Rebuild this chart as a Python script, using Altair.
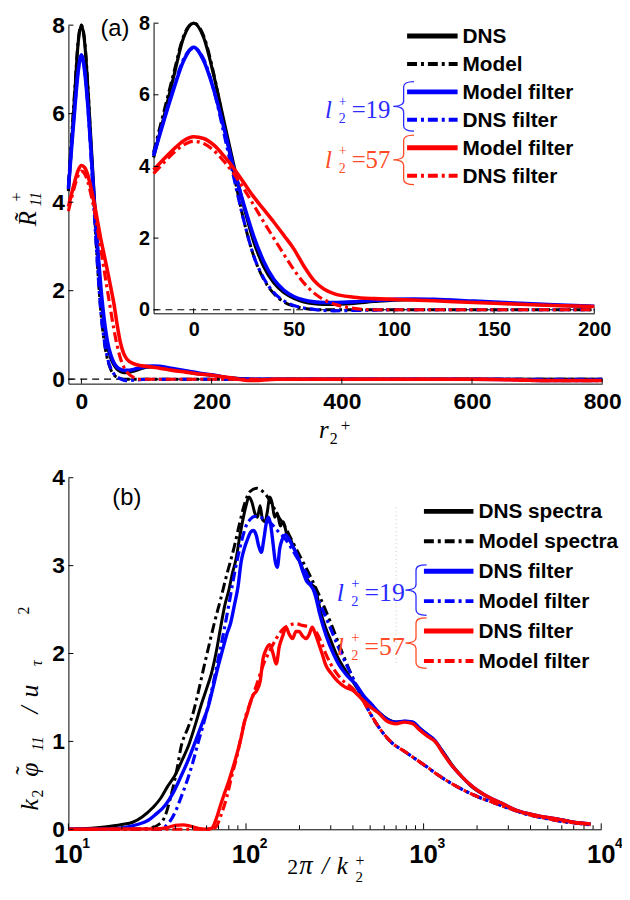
import altair as alt
import pandas as pd

# ---------------- panel (a): correlation R11+ vs r2+ ----------------
A_X = [-20, -15, -10, -5, 0, 5, 10, 15, 20, 25, 30, 35, 40, 45, 50, 55, 60, 65, 70, 80,
       90, 100, 110, 120, 140, 160, 180, 200, 230, 260, 300, 400, 500, 600, 680, 700, 750, 800]
A_DNS = [4.25, 5.35, 6.5, 7.6, 8.0, 7.6, 6.55, 5.3, 4.05, 2.9, 1.9, 1.2, 0.75, 0.48, 0.32, 0.22, 0.17, 0.15, 0.15, 0.18,
         0.23, 0.27, 0.28, 0.27, 0.22, 0.17, 0.12, 0.09, 0.03, 0.0, 0, 0, 0, 0, 0, 0, 0, 0]
A_MODEL = [4.4, 5.5, 6.6, 7.65, 8.0, 7.65, 6.6, 5.2, 3.8, 2.5, 1.5, 0.85, 0.45, 0.22, 0.1, 0.04, 0.01, 0, 0, 0,
           0, 0, 0, 0, 0, 0, 0, 0, 0, 0, 0, 0, 0, 0, 0, 0, 0, 0]
A_MODEL_F19 = [4.3, 5.25, 6.15, 6.95, 7.33, 6.95, 6.15, 5.1, 3.95, 2.95, 2.05, 1.35, 0.85, 0.55, 0.37, 0.27, 0.22, 0.2, 0.2, 0.22,
               0.26, 0.29, 0.3, 0.29, 0.24, 0.19, 0.14, 0.1, 0.02, 0.0, 0, 0, 0, 0, -0.01, -0.03, -0.03, -0.02]
A_DNS_F19 = [4.35, 5.3, 6.2, 7.0, 7.3, 7.0, 6.15, 4.95, 3.7, 2.5, 1.5, 0.88, 0.48, 0.25, 0.12, 0.05, 0.01, -0.02, -0.03, -0.02,
             -0.01, 0, 0, 0, 0, 0, 0, 0, 0, 0, 0, 0, 0, 0, 0, 0, 0, 0]
A_MODEL_F57 = [3.9, 4.2, 4.48, 4.72, 4.83, 4.78, 4.6, 4.3, 3.95, 3.55, 3.15, 2.8, 2.45, 2.08, 1.7, 1.22, 0.82, 0.58, 0.45, 0.35,
               0.31, 0.29, 0.27, 0.25, 0.2, 0.16, 0.12, 0.09, 0.03, -0.03, 0, 0, 0, 0, -0.02, -0.03, -0.03, -0.03]
A_DNS_F57 = [3.8, 4.1, 4.38, 4.6, 4.7, 4.64, 4.45, 4.15, 3.8, 3.38, 2.92, 2.45, 2.0, 1.55, 1.12, 0.75, 0.47, 0.28, 0.16, 0.04,
             0, 0, 0, 0, 0, 0, 0, 0, 0, 0, 0, 0, 0, 0, -0.02, -0.03, -0.03, -0.03]
A_XTICKS = [0, 200, 400, 600, 800]
A_YTICKS = [0, 2, 4, 6, 8]
INSET_XMAX = 200
INSET_XTICKS = [0, 50, 100, 150, 200]
A_LEGEND = ["DNS", "Model", "Model filter", "DNS filter", "Model filter", "DNS filter"]
L_VALUES = ["19", "57"]

# ---------------- panel (b): premultiplied spectra ----------------
B_X_DNS = [10, 12, 15, 18, 20, 23, 26, 30, 33, 36, 40, 44, 48, 52, 56, 60, 64, 68, 72, 76,
           80, 84, 88, 92, 96, 100, 104, 108, 112, 116, 120, 124, 128, 132, 136, 140, 145, 150, 156, 162,
           170, 178, 186, 195, 205, 215, 225, 235, 245, 255, 265, 280, 300, 330, 360, 400, 450, 500, 560, 620,
           700, 780, 860, 950, 1050, 1160, 1300, 1450, 1640, 1900, 2300, 2800, 3400, 4000, 5000, 6000, 7000, 8700]
B_DNS = [0.0, 0.005, 0.02, 0.04, 0.055, 0.08, 0.14, 0.25, 0.35, 0.48, 0.62, 0.8, 0.98, 1.2, 1.42, 1.6, 1.78, 2.02, 2.3, 2.55,
         2.72, 2.92, 3.08, 3.32, 3.52, 3.68, 3.78, 3.72, 3.6, 3.55, 3.68, 3.52, 3.5, 3.62, 3.78, 3.72, 3.55, 3.6, 3.45, 3.5,
         3.35, 3.3, 3.2, 3.1, 3.0, 2.9, 2.82, 2.78, 2.75, 2.6, 2.45, 2.3, 2.15, 1.95, 1.82, 1.68, 1.52, 1.42, 1.33, 1.26,
         1.22, 1.23, 1.22, 1.15, 1.08, 1.0, 0.87, 0.73, 0.6, 0.47, 0.37, 0.28, 0.21, 0.17, 0.13, 0.11, 0.08, 0.06]
B_X_MODEL = [10, 20, 28, 32, 35, 38, 41, 43, 47, 50, 53, 58, 62, 66, 72, 78, 81, 86, 92, 98,
             105, 115, 125, 140, 150, 165, 180, 200, 230, 260, 300, 350, 400, 450, 500, 560, 650, 790, 900, 1060,
             1200, 1440, 1700, 2020, 2500, 3000, 3840, 5000, 6000, 7300, 8700]
B_MODEL = [0, 0, 0.01, 0.05, 0.15, 0.4, 0.7, 0.93, 1.15, 1.3, 1.5, 1.85, 2.1, 2.33, 2.62, 2.9, 3.02, 3.22, 3.48, 3.7,
           3.84, 3.88, 3.84, 3.7, 3.58, 3.45, 3.3, 3.12, 2.88, 2.65, 2.35, 2.0, 1.72, 1.5, 1.32, 1.16, 1.0, 0.88, 0.8, 0.7,
           0.62, 0.52, 0.44, 0.37, 0.3, 0.24, 0.17, 0.12, 0.09, 0.07, 0.05]
B_X_F19 = [10, 18, 22, 25, 28, 31, 35, 39, 43, 48, 53, 57, 61, 65, 69, 74, 78, 82, 86, 90,
           94, 98, 102, 106, 110, 114, 118, 122, 126, 130, 134, 138, 142, 146, 150, 155, 160, 167, 175, 183,
           191, 200, 210, 220, 230, 240, 250, 260, 283, 310, 334, 360, 382, 415, 460, 510, 560, 613, 700, 780,
           870, 950, 1050, 1160, 1300, 1450, 1640, 1900, 2300, 2800, 3300, 3840, 4500, 5200, 5900, 7000, 8700]
B_DNS_F19 = [0, 0.005, 0.03, 0.06, 0.1, 0.17, 0.27, 0.42, 0.6, 0.82, 1.05, 1.22, 1.38, 1.6, 1.82, 2.05, 2.22, 2.35, 2.55, 2.75,
             3.05, 3.2, 3.3, 3.38, 3.4, 3.35, 3.22, 3.15, 3.3, 3.48, 3.55, 3.45, 3.25, 3.05, 2.98, 3.2, 3.3, 3.35, 3.3, 3.22,
             3.15, 3.05, 2.92, 2.82, 2.78, 2.72, 2.6, 2.45, 2.2, 2.0, 1.87, 1.78, 1.72, 1.65, 1.52, 1.42, 1.33, 1.26, 1.22, 1.23,
             1.22, 1.15, 1.08, 1.01, 0.86, 0.72, 0.6, 0.48, 0.37, 0.29, 0.22, 0.18, 0.15, 0.13, 0.11, 0.08, 0.06]
B_X_M19 = [10, 33, 35, 37, 40, 43, 46, 50, 54, 58, 62, 66, 70, 75, 80, 85, 90, 95, 100, 106,
           112, 120, 135, 150, 167, 190, 218, 250, 290, 340, 400, 450, 500, 560, 650, 790, 900, 1060, 1200, 1440,
           1700, 2020, 2500, 3000, 3840, 5000, 6000, 7300, 8700]
B_MODEL_F19 = [0, 0, 0.03, 0.08, 0.2, 0.36, 0.52, 0.75, 1.0, 1.22, 1.45, 1.7, 1.95, 2.25, 2.55, 2.85, 3.1, 3.3, 3.45, 3.53,
               3.56, 3.55, 3.5, 3.4, 3.3, 3.12, 2.92, 2.65, 2.35, 2.02, 1.72, 1.5, 1.32, 1.16, 1.0, 0.88, 0.8, 0.7, 0.62, 0.52,
               0.44, 0.37, 0.3, 0.24, 0.17, 0.12, 0.09, 0.07, 0.05]
B_X_F57 = [10, 30, 36, 40, 44, 48, 52, 56, 60, 64, 68, 72, 76, 80, 85, 89, 94, 98, 102, 106,
           110, 115, 120, 125, 130, 136, 142, 148, 154, 161, 168, 175, 183, 191, 199, 208, 218, 227, 236, 246,
           258, 270, 281, 300, 330, 360, 400, 450, 510, 560, 613, 700, 780, 870, 950, 1050, 1160, 1300, 1450, 1640,
           1900, 2300, 2800, 3300, 3840, 4500, 5200, 5900, 7000, 8700]
B_DNS_F57 = [0, 0.005, 0.02, 0.045, 0.05, 0.04, 0.02, 0.005, 0, 0.01, 0.12, 0.28, 0.42, 0.55, 0.72, 0.86, 1.05, 1.22, 1.33, 1.45,
             1.53, 1.58, 1.68, 1.95, 2.05, 2.1, 2.0, 1.88, 2.08, 2.2, 2.3, 2.22, 2.17, 2.25, 2.25, 2.2, 2.17, 2.22, 2.3, 2.22,
             2.1, 1.98, 1.87, 1.78, 1.68, 1.62, 1.58, 1.48, 1.38, 1.32, 1.24, 1.2, 1.22, 1.2, 1.13, 1.06, 1.0, 0.85, 0.72, 0.6,
             0.48, 0.37, 0.29, 0.22, 0.18, 0.15, 0.13, 0.11, 0.08, 0.06]
B_X_M57 = [10, 64, 68, 72, 78, 83, 88.6, 95, 100, 105, 115, 125, 136, 148, 160, 175, 190, 208, 228, 247,
           265, 281, 300, 340, 400, 450, 500, 560, 650, 790, 900, 1060, 1200, 1440, 1700, 2020, 2500, 3000, 3840, 5000,
           6000, 7300, 8700]
B_MODEL_F57 = [0, 0, 0.03, 0.15, 0.37, 0.6, 0.82, 1.1, 1.3, 1.42, 1.65, 1.87, 2.03, 2.17, 2.27, 2.32, 2.34, 2.32, 2.3, 2.25,
               2.13, 2.0, 1.88, 1.72, 1.6, 1.48, 1.32, 1.16, 1.0, 0.88, 0.8, 0.7, 0.62, 0.52, 0.44, 0.37, 0.3, 0.24, 0.17, 0.12,
               0.09, 0.07, 0.05]
B_YTICKS = [0, 1, 2, 3, 4]
B_DECADES = [10, 100, 1000, 10000]
B_EXPONENTS = ["1", "2", "3", "4"]
B_MINOR = [20, 30, 40, 50, 60, 70, 80, 90, 200, 300, 400, 500, 600, 700, 800, 900,
           2000, 3000, 4000, 5000, 6000, 7000, 8000, 9000]
B_LEGEND = ["DNS spectra", "Model spectra", "DNS filter", "Model filter", "DNS filter", "Model filter"]

# ---------------- layout / style ----------------
W, H = 620, 883
M = 8


def P(v):
    return v - M


SANS = "Liberation Sans"
SERIF = "Liberation Serif"
BLACK, BLUE, RED = "#000000", "#0000ff", "#ff0000"
BLUE_T, RED_T = "#2b2bff", "#ff4a26"
DD = [10, 4, 3, 4]

A_XR, A_YR = [P(69), P(608)], [P(383), P(21)]
I_XR, I_YR = [P(155), P(600)], [P(312), P(19)]
B_XR, B_YR = [P(69), P(607)], [P(833), P(478)]


def ax(orient, values, offset, fs, pad, labels=True):
    return alt.Axis(orient=orient, offset=offset, values=values, labels=labels, ticks=False, tickSize=0,
                    grid=False, domainColor="black", domainWidth=1, labelFont=SANS, labelFontSize=fs,
                    labelFontWeight="bold", labelColor="black", labelPadding=pad, labelFlush=False,
                    labelOverlap=False, title=None)


def enc(xdom, xr, xvals, ydom, yr, yvals, fsx, fsy, padx, pady, xtype="linear", xlabels=True):
    xe = alt.X("x:Q", scale=alt.Scale(type=xtype, domain=xdom, range=xr, nice=False),
               axis=ax("bottom", xvals, yr[0] - H, fsx, padx, xlabels))
    ye = alt.Y("y:Q", scale=alt.Scale(domain=ydom, range=yr, nice=False, zero=False),
               axis=ax("left", yvals, -xr[0], fsy, pady))
    return xe, ye


def line(xs, ys, color, dash, width, xe, ye):
    kw = dict(color=color, strokeWidth=width, interpolate="monotone")
    if dash:
        kw["strokeDash"] = dash
    return alt.Chart(pd.DataFrame({"x": xs, "y": ys})).mark_line(**kw).encode(x=xe, y=ye)


def yticks(vals, ye, axpx, length):
    return alt.Chart(pd.DataFrame({"y": vals})).mark_rule(color="black", strokeWidth=1).encode(
        y=ye, x=alt.value(axpx), x2=alt.value(axpx + length))


def xticks(vals, xe, axpx, length):
    return alt.Chart(pd.DataFrame({"x": vals})).mark_rule(color="black", strokeWidth=1).encode(
        x=xe, y=alt.value(axpx), y2=alt.value(axpx - length))


def zero_line(ye, xr):
    return alt.Chart(pd.DataFrame({"y": [0]})).mark_rule(color="black", strokeWidth=1.2, strokeDash=[7, 5]).encode(
        y=ye, x=alt.value(xr[0]), x2=alt.value(xr[1]))


def txt(s, x, y, size, font=SANS, weight="normal", style="normal", color="black",
        align="left", baseline="alphabetic", angle=0):
    kw = dict(font=font, fontSize=size, fontWeight=weight, fontStyle=style, color=color,
              align=align, baseline=baseline)
    if angle:
        kw["angle"] = angle
    return alt.Chart(pd.DataFrame({"t": [s]})).mark_text(**kw).encode(
        x=alt.value(P(x)), y=alt.value(P(y)), text="t:N")


def swatch(x1, x2, y, color, dash, width):
    kw = dict(color=color, strokeWidth=width)
    if dash:
        kw["strokeDash"] = dash
    return alt.Chart(pd.DataFrame({"a": [0]})).mark_rule(**kw).encode(
        x=alt.value(P(x1)), x2=alt.value(P(x2)), y=alt.value(P(y)))


BRACE = ("M0.42,-1 C0.12,-1 0,-0.94 0,-0.78 L0,-0.22 C0,-0.07 -0.18,0 -0.42,0 "
         "C-0.18,0 0,0.07 0,0.22 L0,0.78 C0,0.94 0.12,1 0.42,1")


def brace(x, y, half_h, color):
    return alt.Chart(pd.DataFrame({"a": [0]})).mark_point(
        shape=BRACE, size=(2 * half_h) ** 2, filled=False, color=color, strokeWidth=1.3, opacity=1).encode(
        x=alt.value(P(x)), y=alt.value(P(y)))


def l_label(xl, yb, num, color, size):
    k = size / 25.0
    return [
        txt("l", xl, yb, size, SERIF, style="italic", color=color),
        txt("+", xl + 14 * k, yb - 12.5 * k, 14 * k, SERIF, color=color),
        txt("2", xl + 14 * k, yb + 5 * k, 14 * k, SERIF, color=color),
        txt("=" + num, xl + 27 * k, yb, size, SERIF, color=color),
    ]


# ---------------- panel (a) main ----------------
series_a = [(A_DNS, BLACK, None, 3.2), (A_MODEL, BLACK, DD, 3.0),
            (A_MODEL_F19, BLUE, None, 3.6), (A_DNS_F19, BLUE, DD, 3.2),
            (A_MODEL_F57, RED, None, 3.6), (A_DNS_F57, RED, DD, 3.2)]

xeA, yeA = enc([-20, 800], A_XR, A_XTICKS, [-0.1, 8], A_YR, A_YTICKS, 23, 23, 7, 4)
a_layers = [zero_line(yeA, A_XR)]
a_layers += [line(A_X, ys, c, d, w, xeA, yeA) for ys, c, d, w in series_a]
a_layers += [yticks(A_YTICKS, yeA, A_XR[0], 5), xticks(A_XTICKS, xeA, A_YR[0], 5)]
panel_a = alt.layer(*a_layers)

# ---------------- panel (a) inset ----------------
xeI, yeI = enc([-20, INSET_XMAX], I_XR, INSET_XTICKS, [-0.1, 8], I_YR, A_YTICKS, 20, 20, 6, 4)
keep = [i for i, v in enumerate(A_X) if v <= INSET_XMAX]
i_layers = [zero_line(yeI, I_XR)]
i_layers += [line([A_X[i] for i in keep], [ys[i] for i in keep], c, d, w, xeI, yeI) for ys, c, d, w in series_a]
i_layers += [yticks(A_YTICKS, yeI, I_XR[0], 5), xticks(INSET_XTICKS, xeI, I_YR[0], 5)]
inset = alt.layer(*i_layers)

# ---------------- panel (b) ----------------
series_b = [(B_X_DNS, B_DNS, BLACK, None, 3.0), (B_X_MODEL, B_MODEL, BLACK, DD, 3.0),
            (B_X_F19, B_DNS_F19, BLUE, None, 3.4), (B_X_M19, B_MODEL_F19, BLUE, DD, 3.2),
            (B_X_F57, B_DNS_F57, RED, None, 3.4), (B_X_M57, B_MODEL_F57, RED, DD, 3.2)]
xeB, yeB = enc([10, 10000], B_XR, B_DECADES, [0, 4], B_YR, B_YTICKS, 22, 23, 8, 4,
               xtype="log", xlabels=False)
b_layers = [line(xs, ys, c, d, w, xeB, yeB) for xs, ys, c, d, w in series_b]
b_layers += [yticks(B_YTICKS, yeB, B_XR[0], 5), xticks(B_DECADES, xeB, B_YR[0], 6),
             xticks(B_MINOR, xeB, B_YR[0], 4)]
dec = pd.DataFrame({"x": B_DECADES, "e": B_EXPONENTS})
b_layers.append(alt.Chart(dec).mark_text(font=SANS, fontSize=26, fontWeight="bold", align="center",
                                         baseline="top").encode(x=xeB, y=alt.value(P(846)), text=alt.value("10")))
b_layers.append(alt.Chart(dec).mark_text(font=SANS, fontSize=14, fontWeight="bold", align="left",
                                         baseline="top", dx=14).encode(x=xeB, y=alt.value(P(841)), text="e:N"))
panel_b = alt.layer(*b_layers)

# ---------------- annotations ----------------
ann = []
ann.append(txt("(a)", 116, 25, 24, align="center", baseline="middle"))
ann.append(txt("(b)", 128, 499, 24, align="center", baseline="middle"))

# legend (a)
styles = [(BLACK, None), (BLACK, DD), (BLUE, None), (BLUE, DD), (RED, None), (RED, DD)]
for i, (lab, (c, d)) in enumerate(zip(A_LEGEND, styles)):
    y = 32 + 28.2 * i
    ann.append(swatch(411, 462, y, c, d, 5 if d is None else 4))
    ann.append(txt(lab, 467, y + 1, 21, weight="bold", baseline="middle"))
ann.append(brace(407.5, 103, 25, BLUE_T))
ann.append(brace(407.5, 157, 25, RED_T))
ann += l_label(328, 115, L_VALUES[0], BLUE_T, 25)
ann += l_label(328, 165, L_VALUES[1], RED_T, 25)

# legend (b)
for i, (lab, (c, d)) in enumerate(zip(B_LEGEND, styles)):
    y = 512 + 30.2 * i
    ann.append(swatch(428, 478, y, c, d, 5 if d is None else 4))
    ann.append(txt(lab, 483, y + 1, 21, weight="bold", baseline="middle"))
ann.append(brace(420, 591.5, 25.5, BLUE_T))
ann.append(brace(420, 645, 25.5, RED_T))
ann += l_label(340, 602, L_VALUES[0], BLUE_T, 26)
ann += l_label(340, 657, L_VALUES[1], RED_T, 26)
ann.append(alt.Chart(pd.DataFrame({"a": [0]})).mark_rule(color="#c8c8c8", strokeWidth=1, strokeDash=[1, 3]).encode(
    x=alt.value(P(400)), y=alt.value(P(508)), y2=alt.value(P(668))))

# axis titles (a)
ann.append(txt("R\u0303", 36, 224, 25, SERIF, style="italic", angle=270))
ann.append(txt("+", 22, 199, 16, SERIF, angle=270))
ann.append(txt("11", 41, 204, 16, SERIF, style="italic", angle=270))
ann.append(txt("r", 322, 438, 25, SERIF, style="italic"))
ann.append(txt("2", 333, 444, 16, SERIF))
ann.append(txt("+", 344, 431, 17, SERIF))

# axis titles (b)
ann.append(txt("k", 38, 814, 26, SERIF, style="italic", angle=270))
ann.append(txt("2", 43, 801, 16, SERIF, angle=270))
ann.append(txt("\u03c6", 38, 780, 26, SERIF, style="italic", angle=270))
ann.append(txt("\u02dc", 33, 778, 26, SERIF, angle=270))
ann.append(txt("11", 43, 754, 16, SERIF, style="italic", angle=270))
ann.append(txt("/", 38, 716, 26, SERIF, style="italic", angle=270))
ann.append(txt("u", 38, 700, 26, SERIF, style="italic", angle=270))
ann.append(txt("\u03c4", 42, 668, 16, SERIF, style="italic", angle=270))
ann.append(txt("2", 29, 616, 16, SERIF, angle=270))
ann.append(txt("2", 290, 878, 22, SERIF))
ann.append(txt("\u03c0", 302, 878, 27, SERIF, style="italic"))
ann.append(txt("/", 325, 878, 25, SERIF, style="italic"))
ann.append(txt("k", 340, 878, 25, SERIF, style="italic"))
ann.append(txt("+", 359, 870, 16, SERIF))
ann.append(txt("2", 359, 886, 15, SERIF))

chart = alt.layer(panel_a, inset, panel_b, *ann).resolve_scale(
    x="independent", y="independent"
).properties(
    width=W, height=H, autosize=alt.AutoSizeParams(type="none"), padding=0
).configure_view(strokeWidth=0)

chart.save("out.html", embed_options={"renderer": "svg", "actions": False})
